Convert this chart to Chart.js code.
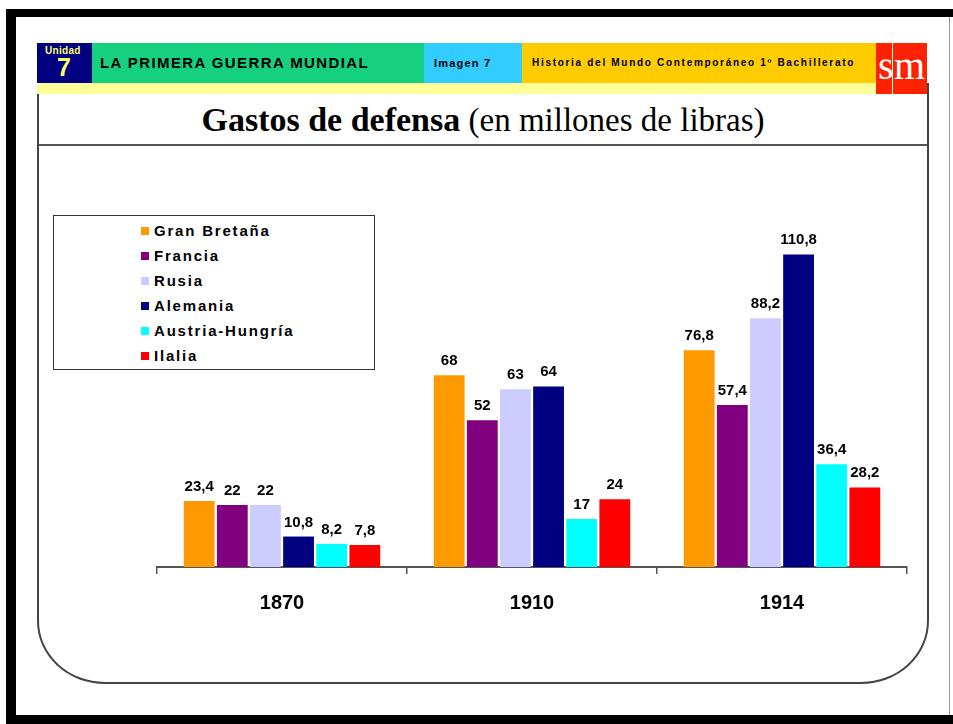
<!DOCTYPE html>
<html lang="es">
<head>
<meta charset="utf-8">
<title>Gastos de defensa</title>
<script src="https://cdn.jsdelivr.net/npm/chart.js@4/dist/chart.umd.min.js"></script>
<style>
  body { margin: 0; background: #fff; }
  #lamina { position: relative; width: 953px; height: 724px; overflow: hidden; background: #fff; font-family: "Liberation Sans", Arial, sans-serif; }
  .negro { position: absolute; background: #000; }
  #marco { position: absolute; left: 37px; top: 83px; width: 888px; height: 599px; border: 2px solid #444; border-top: none; border-radius: 0 0 68px 68px / 0 0 63px 63px; }
  .barra { position: absolute; top: 43px; height: 40px; }
  .barra span { position: absolute; font-weight: bold; white-space: nowrap; }
  #franja { position: absolute; left: 37px; top: 83px; width: 839px; height: 11px; background: #ffff99; }
  #sm1, #sm2 { position: absolute; top: 43px; height: 51px; background: #ff2200; color: #fff; font-family: "Liberation Serif", serif; font-size: 40px; line-height: 51px; overflow: hidden; }
  #titulo { position: absolute; left: 39px; top: 94px; width: 888px; height: 50px; line-height: 52px; text-align: center; font-family: "Liberation Serif", serif; font-size: 33px; color: #000; border-bottom: 2px solid #555; }
  #titulo b { font-size: 34px; }
  #leyenda { position: absolute; left: 53px; top: 215px; width: 320px; height: 153px; border: 1px solid #333; }
  .item { position: absolute; left: 87px; height: 20px; line-height: 20px; font-size: 15px; font-weight: bold; letter-spacing: 1.8px; color: #000; }
  .item i { position: absolute; left: 0; top: 6px; width: 8px; height: 8px; }
  .item span { position: absolute; left: 13px; white-space: nowrap; }
  #grafico { position: absolute; left: 140px; top: 148px; }
</style>
</head>
<body>
<div id="lamina">
  <div class="negro" style="left:6px;top:9px;width:947px;height:8px"></div>
  <div class="negro" style="left:6px;top:9px;width:10px;height:715px"></div>
  <div class="negro" style="left:6px;top:715px;width:947px;height:9px"></div>
  <div style="position:absolute;left:949px;top:17px;width:1px;height:698px;background:#999"></div>

  <div id="marco"></div>
  <div id="franja"></div>

  <div class="barra" style="left:37px;width:55px;background:#000080">
    <span style="left:8px;top:2px;font-size:10px;color:#ffff66;letter-spacing:0.3px">Unidad</span>
    <span style="left:20px;top:10px;font-size:25px;color:#ffff66">7</span>
  </div>
  <div class="barra" style="left:92px;width:332px;background:#14d07f">
    <span style="left:8px;top:11px;font-size:15px;letter-spacing:1.4px">LA PRIMERA GUERRA MUNDIAL</span>
  </div>
  <div class="barra" style="left:424px;width:98px;background:#33ccff">
    <span style="left:10px;top:14px;font-size:11px;letter-spacing:1.2px">Imagen 7</span>
  </div>
  <div class="barra" style="left:522px;width:354px;background:#ffcc00">
    <span style="left:10px;top:14px;font-size:10px;letter-spacing:1.7px">Historia del Mundo Contemporáneo 1º Bachillerato</span>
  </div>
  <div id="sm1" style="left:876px;width:16px"><span style="position:absolute;left:2px;top:-3px">s</span></div>
  <div id="sm2" style="left:893px;width:34px"><span style="position:absolute;left:1px;top:-3px">m</span></div>

  <div id="titulo"><b>Gastos de defensa</b> (en millones de libras)</div>

  <div id="leyenda"></div>
  <canvas id="grafico" width="790" height="488"></canvas>
</div>

<script>
const anios = ["1870", "1910", "1914"];
const paises = ["Gran Bretaña", "Francia", "Rusia", "Alemania", "Austria-Hungría", "Ilalia"];
const colores = ["#ff9900", "#800080", "#ccccff", "#000080", "#00ffff", "#ff0000"];

// millones de libras, por año
const granBretana = [23.4, 68, 76.8];
const francia = [22, 52, 57.4];
const rusia = [22, 63, 88.2];
const alemania = [10.8, 64, 110.8];
const austriaHungria = [8.2, 17, 36.4];
const italia = [7.8, 24, 28.2];

const valores = [granBretana, francia, rusia, alemania, austriaHungria, italia];

// leyenda a mano dentro del recuadro
const leyenda = document.getElementById("leyenda");
paises.forEach((pais, i) => {
  const item = document.createElement("div");
  item.className = "item";
  item.style.top = (5 + i * 25) + "px";
  item.innerHTML = '<i style="background:' + colores[i] + '"></i><span>' + pais + "</span>";
  leyenda.appendChild(item);
});

// etiqueta con el valor encima de cada barra (coma decimal)
const etiquetas = {
  id: "etiquetas",
  afterDatasetsDraw(chart) {
    const ctx = chart.ctx;
    ctx.save();
    ctx.font = "bold 15px 'Liberation Sans', Arial, sans-serif";
    ctx.fillStyle = "#000";
    ctx.textAlign = "center";
    ctx.textBaseline = "alphabetic";
    chart.data.datasets.forEach((ds, i) => {
      chart.getDatasetMeta(i).data.forEach((bar, j) => {
        const txt = String(ds.data[j]).replace(".", ",");
        ctx.fillText(txt, bar.x, bar.y - 10);
      });
    });
    ctx.restore();
  },
};

function crearGrafico() {
  const ctx = document.getElementById("grafico").getContext("2d");
  new Chart(ctx, {
    type: "bar",
    data: {
      labels: anios,
      datasets: paises.map((pais, i) => ({
        label: pais,
        data: valores[i],
        backgroundColor: colores[i],
        borderWidth: 0,
        categoryPercentage: 0.795,
        barPercentage: 0.93,
      })),
    },
    options: {
      responsive: false,
      animation: false,
      devicePixelRatio: 1,
      layout: {
        padding: { left: 17, right: 23, top: 10, bottom: 4 },
      },
      scales: {
        x: {
          grid: {
            offset: true,
            drawOnChartArea: false,
            drawTicks: true,
            tickLength: 7,
            color: "#555",
            lineWidth: 1.5,
          },
          border: { display: true, color: "#555", width: 2 },
          ticks: {
            padding: 17,
            color: "#000",
            font: { family: "'Liberation Sans', Arial, sans-serif", size: 20, weight: "bold" },
          },
        },
        y: {
          display: false,
          min: 0,
          max: 145,
        },
      },
      plugins: {
        legend: { display: false },
        tooltip: { enabled: false },
      },
    },
    plugins: [etiquetas],
  });
}

crearGrafico();
</script>
</body>
</html>
